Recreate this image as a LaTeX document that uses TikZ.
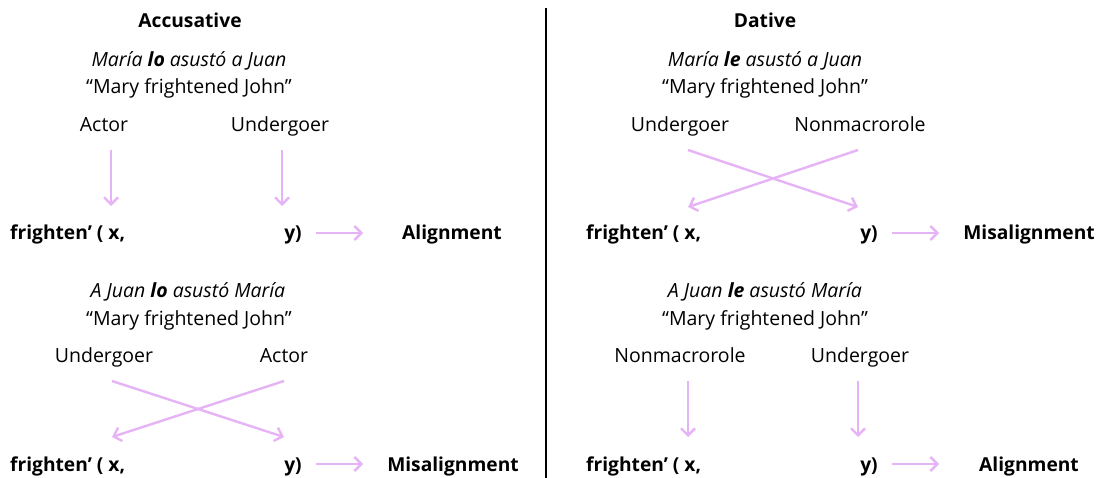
\documentclass[tikz,border=0pt]{standalone}
\usepackage{fontspec}
\setmainfont{Open Sans}
\usetikzlibrary{arrows.meta}
\definecolor{arr}{HTML}{E6B4F6}
\begin{document}
\begin{tikzpicture}[x=1pt,y=-1pt,
  txt/.style={font=\fontsize{19.5}{23}\selectfont, inner sep=0pt, anchor=base},
  bt/.style={txt, font=\fontsize{19.2}{23}\selectfont\bfseries},
  conn/.style={draw=arr, line width=2.4pt, -{Straight Barb[length=7pt,width=14pt]}}]
\useasboundingbox (0,0) rectangle (1107,478);
\fill[white] (0,0) rectangle (1107,478);
% divider
\coordinate (dtop) at (546,8);
\coordinate (dbot) at (546,478);
\draw[line width=1.6pt] (dtop) -- (dbot);

% ===== Left top =====
\node[bt] (accT) at (190,28) {Accusative};
\node[txt] (accS1) at (189,67) {\itshape María \textbf{lo} asustó a Juan};
\node[txt] (accG1) at (189,94) {“Mary frightened John”};
\node[txt] (accA1) at (104,132) {Actor};
\node[txt] (accU1) at (280,132) {Undergoer};
\node[bt, anchor=base west] (accF1) at (10,240) {frighten’ ( x,};
\node[bt] (accY1) at (293,240) {y)};
\node[bt] (accR1) at (452,240) {Alignment};
\coordinate (a1s) at (111,150); \coordinate (a1e) at (111,206);
\coordinate (a2s) at (282,150); \coordinate (a2e) at (282,206);
\coordinate (a3s) at (316,233); \coordinate (a3e) at (363,233);
\draw[conn] (a1s) -- (a1e);
\draw[conn] (a2s) -- (a2e);
\draw[conn] (a3s) -- (a3e);

% ===== Left bottom =====
\node[txt] (accS2) at (188,297) {\itshape A Juan \textbf{lo} asustó María};
\node[txt] (accG2) at (189,325) {“Mary frightened John”};
\node[txt] (accU2) at (104,362) {Undergoer};
\node[txt] (accA2) at (284,362) {Actor};
\node[bt, anchor=base west] (accF2) at (10,471) {frighten’ ( x,};
\node[bt] (accY2) at (293,471) {y)};
\node[bt] (accR2) at (453,471) {Misalignment};
\coordinate (b1s) at (112,381); \coordinate (b1e) at (284,437);
\coordinate (b2s) at (284,381); \coordinate (b2e) at (112,437);
\coordinate (b3s) at (316,464); \coordinate (b3e) at (363,464);
\draw[conn] (b1s) -- (b1e);
\draw[conn] (b2s) -- (b2e);
\draw[conn] (b3s) -- (b3e);

% ===== Right top =====
\node[bt] (datT) at (765,28) {Dative};
\node[txt] (datS1) at (765,67) {\itshape María \textbf{le} asustó a Juan};
\node[txt] (datG1) at (765,94) {“Mary frightened John”};
\node[txt] (datU1) at (680,132) {Undergoer};
\node[txt] (datN1) at (860,132) {Nonmacrorole};
\node[bt, anchor=base west] (datF1) at (586,240) {frighten’ ( x,};
\node[bt] (datY1) at (869,240) {y)};
\node[bt] (datR1) at (1029,240) {Misalignment};
\coordinate (c1s) at (688,150); \coordinate (c1e) at (858,207);
\coordinate (c2s) at (858,150); \coordinate (c2e) at (688,207);
\coordinate (c3s) at (892,233); \coordinate (c3e) at (939,233);
\draw[conn] (c1s) -- (c1e);
\draw[conn] (c2s) -- (c2e);
\draw[conn] (c3s) -- (c3e);

% ===== Right bottom =====
\node[txt] (datS2) at (765,297) {\itshape A Juan \textbf{le} asustó María};
\node[txt] (datG2) at (765,325) {“Mary frightened John”};
\node[txt] (datN2) at (680,362) {Nonmacrorole};
\node[txt] (datU2) at (860,362) {Undergoer};
\node[bt, anchor=base west] (datF2) at (586,471) {frighten’ ( x,};
\node[bt] (datY2) at (869,471) {y)};
\node[bt] (datR2) at (1029,471) {Alignment};
\coordinate (d1s) at (688,381); \coordinate (d1e) at (688,437);
\coordinate (d2s) at (858,381); \coordinate (d2e) at (858,437);
\coordinate (d3s) at (892,464); \coordinate (d3e) at (939,464);
\draw[conn] (d1s) -- (d1e);
\draw[conn] (d2s) -- (d2e);
\draw[conn] (d3s) -- (d3e);
\end{tikzpicture}
\end{document}
